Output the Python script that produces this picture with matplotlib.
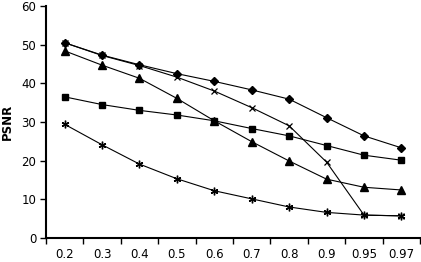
import matplotlib
matplotlib.use("Agg")
import matplotlib.pyplot as plt
import numpy as np

categories = ["0.2", "0.3", "0.4", "0.5", "0.6", "0.7", "0.8", "0.9", "0.95", "0.97"]
diamond = [50.5, 47.3, 44.8, 42.5, 40.5, 38.3, 35.9, 31.1, 26.4, 23.3]
xcross = [50.5, 47.2, 44.6, 41.6, 38.0, 33.7, 29.0, 19.6, 5.9, 5.7]
triangle = [48.4, 44.7, 41.3, 36.1, 30.3, 24.9, 19.9, 15.2, 13.1, 12.4]
square = [36.5, 34.5, 33.0, 31.8, 30.3, 28.3, 26.4, 23.9, 21.4, 20.1]
star = [29.4, 24.1, 19.1, 15.3, 12.2, 10.1, 8.0, 6.6, 5.9, 5.7]

fig = plt.figure(figsize=(4.21, 2.62), dpi=100)
ax = fig.add_axes([0.109, 0.092, 0.889, 0.885])
x = np.arange(len(categories))
lw = 0.8
ax.plot(x, diamond, color="black", lw=lw, marker="D", ms=4.5)
ax.plot(x, xcross, color="black", lw=lw, marker="x", ms=5, mew=0.9)
ax.plot(x, triangle, color="black", lw=lw, marker="^", ms=5.5)
ax.plot(x, square, color="black", lw=lw, marker="s", ms=5)
ax.plot(x, star, color="black", lw=lw, marker=(6, 2, 0), ms=5.5, mew=1.0)

ax.set_xlim(-0.5, len(categories) - 0.5)
ax.set_ylim(0, 60)
ax.set_yticks(range(0, 61, 10))
ax.set_xticks(x)
ax.set_xticklabels(categories)
ax.set_xticks(np.arange(-0.5, len(categories), 1.0), minor=True)
ax.tick_params(axis="x", which="major", length=0, pad=7, labelsize=8.5)
ax.tick_params(axis="x", which="minor", length=4, width=1, direction="out")
ax.tick_params(axis="y", length=4, width=1, direction="out", labelsize=8.5, pad=3)
for s in ["top", "right"]:
    ax.spines[s].set_visible(False)
for s in ["left", "bottom"]:
    ax.spines[s].set_linewidth(1.5)
ax.set_ylabel("PSNR", fontsize=8.5, fontweight="bold", labelpad=5)
fig.savefig("out.png", dpi=100)
